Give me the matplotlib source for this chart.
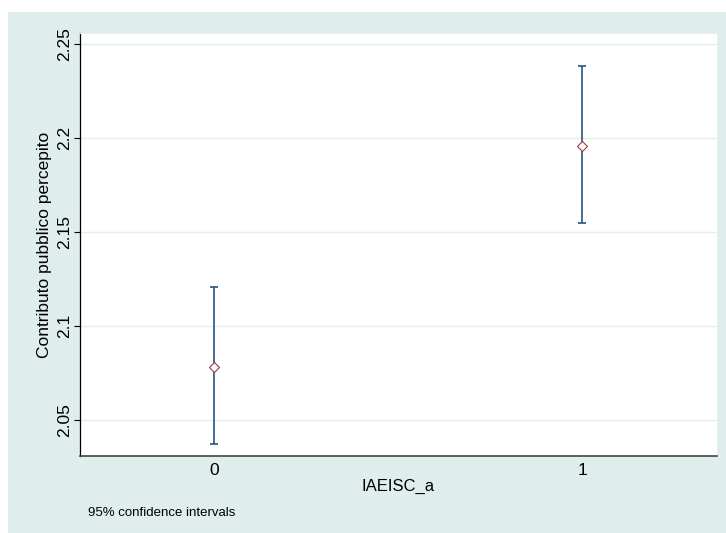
import numpy as np
import matplotlib
matplotlib.use("Agg")
import matplotlib.pyplot as plt
import matplotlib.patches as patches

# values
groups = [0, 1]
means = [2.0784, 2.1959]
ci_low = [2.0372, 2.1548]
ci_high = [2.1207, 2.2383]
y_ticks = [2.05, 2.1, 2.15, 2.2, 2.25]
y_tick_labels = ["2.05", "2.1", "2.15", "2.2", "2.25"]

plt.rcParams["font.family"] = ["Liberation Sans Narrow", "Liberation Sans", "DejaVu Sans"]

W, H = 726, 533
fig = plt.figure(figsize=(W / 100, H / 100), dpi=100)
fig.patch.set_facecolor("white")

# stata-like outer background, kept behind the axes
bg = patches.Rectangle((8 / W, 0), 1 - 8 / W, (H - 12) / H, transform=fig.transFigure,
                       facecolor="#e0eded", edgecolor="none", zorder=-5)
fig.patches.append(bg)

ax = fig.add_axes([80 / W, (H - 456) / H, (717 - 80) / W, (456 - 33) / H])
ax.set_zorder(1)
ax.set_facecolor("white")

means = np.array(means)
yerr = np.vstack([means - np.array(ci_low), np.array(ci_high) - means])

ax.errorbar(groups, means, yerr=yerr, fmt="none", ecolor="#2a5580", elinewidth=1.2,
            capsize=3.2, capthick=1.2, zorder=3)
ax.plot(groups, means, linestyle="none", marker="D", markersize=5.5,
        markerfacecolor="white", markeredgecolor="#a03a3f", markeredgewidth=0.8, zorder=4)

ax.set_xlim(-0.365, 1.367)
ax.set_ylim(2.0309, 2.2559)

ax.set_yticks(y_ticks)
ax.set_yticklabels(y_tick_labels, rotation=90, va="center", fontsize=12.5)
ax.set_xticks(groups)
ax.set_xticklabels([str(g) for g in groups], fontsize=12.5)
ax.tick_params(axis="y", length=4, width=0.8, pad=2)
ax.tick_params(axis="x", length=0, pad=5)

ax.grid(axis="y", color="#e3eeee", linewidth=1)
ax.set_axisbelow(True)

for side in ["top", "right"]:
    ax.spines[side].set_color("#e6f0f0")
ax.spines["left"].set_color("black")
ax.spines["left"].set_linewidth(0.9)
ax.spines["bottom"].set_color("#444444")
ax.spines["bottom"].set_linewidth(1.2)

ax.set_xlabel("IAEISC_a", fontsize=12, labelpad=1)
ax.set_ylabel("Contributo pubblico percepito", fontsize=12.5, labelpad=3)

fig.text(88 / W, 1 - 513 / H, "95% confidence intervals", fontsize=9.5, va="center", ha="left")

fig.savefig("out.png", dpi=100)
